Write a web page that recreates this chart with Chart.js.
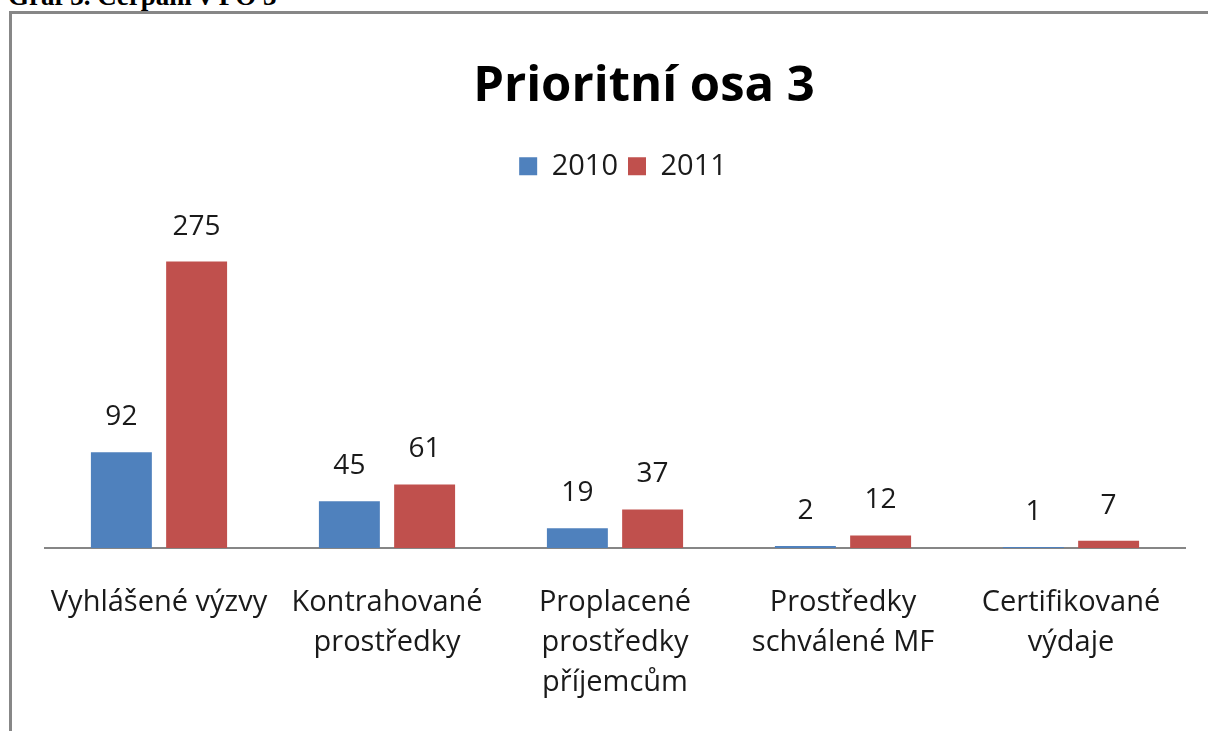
<!DOCTYPE html>
<html>
<head>
<meta charset="utf-8">
<script src="https://cdn.jsdelivr.net/npm/chart.js@4"></script>
<style>
  body { margin: 0; background: #fff; width: 1208px; height: 731px; overflow: hidden; position: relative; }
  .caption { position: absolute; left: 8px; top: -19px; font: bold 27px "Liberation Serif", serif; color: #000; white-space: nowrap; }
  .frame { position: absolute; left: 9px; top: 11px; width: 1300px; height: 900px; border-left: 3px solid #878787; border-top: 3px solid #878787; }
  .wrap { position: absolute; left: 0; top: 0; width: 1208px; height: 731px; }
</style>
</head>
<body>
<div class="caption">Graf 3. Čerpání v PO 3</div>
<div class="frame"></div>
<div class="wrap"><canvas id="barChart"></canvas></div>
<script>
// chart data
let categories = [
    'Vyhlášené výzvy',
    ['Kontrahované', 'prostředky'],
    ['Proplacené', 'prostředky', 'příjemcům'],
    ['Prostředky', 'schválené MF'],
    ['Certifikované', 'výdaje']
];
let values2010 = [92, 45, 19, 2, 1];
let values2011 = [275, 61, 37, 12, 7];
let seriesNames = ['2010', '2011'];

let fontFamily = '"Open Sans", sans-serif';

// value labels above each bar
let valueLabels = {
    id: 'valueLabels',
    afterDatasetsDraw(chart) {
        let ctx = chart.ctx;
        ctx.save();
        ctx.font = '28px ' + fontFamily;
        ctx.fillStyle = '#1a1a1a';
        ctx.textAlign = 'center';
        ctx.textBaseline = 'middle';
        chart.data.datasets.forEach((ds, i) => {
            chart.getDatasetMeta(i).data.forEach((bar, j) => {
                ctx.fillText(ds.data[j], bar.x, bar.y - 35);
            });
        });
        ctx.restore();
    }
};

// title and legend sit a bit right of the plot centre in the original
let shiftHeader = {
    id: 'shiftHeader',
    afterLayout(chart) {
        let t = chart.titleBlock;
        if (t) { t.left += 29; t.right += 29; }
        let l = chart.legend;
        if (l) { l.left += 8; l.right += 8; }
    }
};

let barCtx = document.getElementById('barChart').getContext('2d');
let barChart = new Chart(barCtx, {
    type: 'bar',
    data: {
        labels: categories,
        datasets: [{
            label: seriesNames[0],
            data: values2010,
            backgroundColor: '#4F81BD',
            barPercentage: 0.81,
            categoryPercentage: 0.66
        }, {
            label: seriesNames[1],
            data: values2011,
            backgroundColor: '#C0504D',
            barPercentage: 0.81,
            categoryPercentage: 0.66
        }]
    },
    options: {
        responsive: true,
        maintainAspectRatio: false,
        animation: false,
        layout: {
            padding: { top: 48, left: 45, right: 23, bottom: 28 }
        },
        plugins: {
            title: {
                display: true,
                text: 'Prioritní osa 3',
                color: '#000',
                font: { family: fontFamily, size: 49, weight: 'bold' },
                padding: { top: 10, bottom: 25 }
            },
            legend: {
                position: 'top',
                labels: {
                    boxWidth: 18,
                    boxHeight: 18,
                    color: '#1a1a1a',
                    font: { family: fontFamily, size: 29 },
                    padding: 10
                }
            },
            tooltip: { enabled: false }
        },
        scales: {
            x: {
                grid: { display: false, drawTicks: false },
                border: { display: true, color: '#868686', width: 2 },
                ticks: {
                    color: '#1a1a1a',
                    padding: 35,
                    maxRotation: 0,
                    autoSkip: false,
                    font: { family: fontFamily, size: 29, lineHeight: 1.38 }
                },
                afterFit(scale) {
                    scale.height = 155;
                }
            },
            y: {
                display: false,
                min: 0,
                max: 343
            }
        }
    },
    plugins: [valueLabels, shiftHeader]
});
</script>
</body>
</html>
